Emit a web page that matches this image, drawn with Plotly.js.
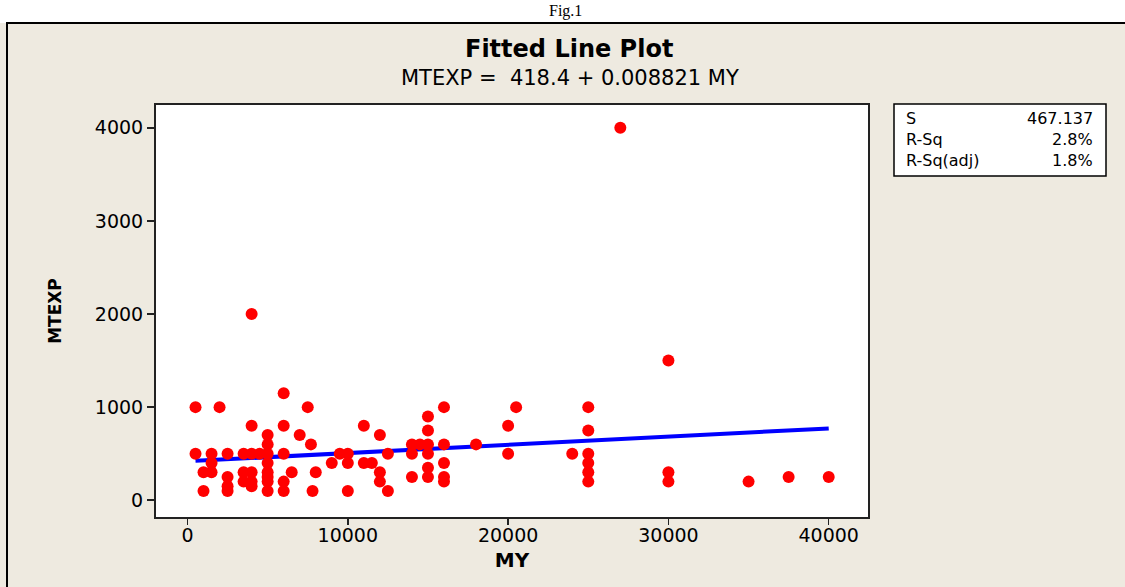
<!DOCTYPE html>
<html>
<head>
<meta charset="utf-8">
<script src="https://cdn.plot.ly/plotly-3.0.1.min.js"></script>
<style>html,body{margin:0;padding:0;background:#fff;}#chart{width:1125px;height:587px;}</style>
</head>
<body>
<div id="chart"></div>
<script>
// Data (MY vs MTEXP)
const MY = [
  500, 2000, 6000, 7500, 4000, 27000, 30000,
  4000, 6000, 5000, 7000, 5000, 7700,
  500, 1500, 2500, 3500, 4000, 4500, 5000, 6000,
  1500, 5000,
  1000, 1500, 3500, 4000, 5000, 6500, 8000,
  2500, 5000, 3500, 4000, 5000, 4000, 6000, 6000,
  2500, 2500, 1000, 5000, 7800, 10000, 12500,
  11000, 12000, 9500, 10000, 9000, 10000, 11000, 11500, 12000, 12000, 12500,
  14000, 14500, 15000, 14000, 15000, 15000, 15000,
  16000, 16000, 16000, 14000, 15000, 15000, 16000, 16000,
  18000, 20500, 20000, 20000, 24000,
  25000, 25000, 25000, 25000, 25000, 25000,
  30000, 30000, 35000, 37500, 40000
];
const MTEXP = [
  1000, 1000, 1150, 1000, 2000, 4000, 1500,
  800, 800, 700, 700, 600, 600,
  500, 500, 500, 500, 500, 500, 500, 500,
  400, 400,
  300, 300, 300, 300, 300, 300, 300,
  250, 250, 200, 200, 200, 150, 200, 100,
  150, 100, 100, 100, 100, 100, 100,
  800, 700, 500, 500, 400, 400, 400, 400, 300, 200, 500,
  600, 600, 600, 500, 500, 900, 750,
  1000, 600, 400, 250, 350, 250, 250, 200,
  600, 1000, 800, 500, 500,
  1000, 750, 500, 400, 300, 200,
  300, 200, 200, 250, 250
];
// Regression from the reference: MTEXP = 418.4 + 0.008821 MY
const intercept = 418.4;
const slope = 0.008821;
const xTicks = [0, 10000, 20000, 30000, 40000];
const yTicks = [0, 1000, 2000, 3000, 4000];
const statLabels = ['S', 'R-Sq', 'R-Sq(adj)'];
const statValues = ['467.137', '2.8%', '1.8%'];

const fitX = [Math.min(...MY), Math.max(...MY)];
const fitY = fitX.map(v => intercept + slope * v);

const W = 1125, H = 587;
const L = 156, R = 257, T = 105, B = 70;
const pw = W - L - R, ph = H - T - B;
const px = p => (p - L) / pw;
const py = p => (H - B - p) / ph;

const font = 'DejaVu Sans, Verdana, sans-serif';

const traces = [
  {x: fitX, y: fitY, mode: 'lines', line: {color: '#0000FF', width: 4}, hoverinfo: 'skip', showlegend: false},
  {x: MY, y: MTEXP, mode: 'markers', marker: {color: '#FF0000', size: 12, symbol: 'circle'}, showlegend: false}
];

const annotations = [
  {text: 'Fig.1', xref: 'paper', yref: 'paper', x: px(565), y: py(11), xanchor: 'center', yanchor: 'middle', showarrow: false,
   font: {family: 'Liberation Serif, Times New Roman, serif', size: 16, color: '#000'}},
  {text: '<b>Fitted Line Plot</b>', xref: 'paper', yref: 'paper', x: px(569), y: py(49), xanchor: 'center', yanchor: 'middle', showarrow: false,
   font: {family: font, size: 24, color: '#000'}},
  {text: 'MTEXP =  418.4 + 0.008821 MY', xref: 'paper', yref: 'paper', x: px(570), y: py(78), xanchor: 'center', yanchor: 'middle', showarrow: false,
   font: {family: font, size: 21, color: '#000'}}
];
const rowsY = [118, 139, 160];
statLabels.forEach((s, i) => {
  annotations.push({text: s, xref: 'paper', yref: 'paper', x: px(904), y: py(rowsY[i]), xanchor: 'left', yanchor: 'middle', showarrow: false,
    font: {family: font, size: 16, color: '#000'}});
  annotations.push({text: statValues[i], xref: 'paper', yref: 'paper', x: px(1095), y: py(rowsY[i]), xanchor: 'right', yanchor: 'middle', showarrow: false,
    font: {family: font, size: 16, color: '#000'}});
});

const shapes = [
  {type: 'rect', xref: 'paper', yref: 'paper', x0: px(-20), x1: px(1150), y0: py(23), y1: py(-20), fillcolor: '#FFFFFF', line: {width: 0}, layer: 'below'},
  {type: 'rect', xref: 'paper', yref: 'paper', x0: px(7), x1: px(1160), y0: py(23), y1: py(620), fillcolor: 'rgba(0,0,0,0)', line: {color: '#000', width: 2}, layer: 'below'},
  {type: 'rect', xref: 'paper', yref: 'paper', x0: px(894), x1: px(1106), y0: py(104), y1: py(176), fillcolor: '#FFFFFF', line: {color: '#000', width: 1.5}, layer: 'below'}
];

const layout = {
  width: W, height: H,
  margin: {l: L, r: R, t: T, b: B},
  paper_bgcolor: '#EEEAE0',
  plot_bgcolor: '#FFFFFF',
  showlegend: false,
  xaxis: {
    range: [-1965, 42450], tickvals: xTicks, ticktext: xTicks.map(String),
    showgrid: false, zeroline: false, showline: true, mirror: true, linecolor: '#222', linewidth: 2,
    ticks: 'outside', ticklen: 6, tickwidth: 1.5, tickcolor: '#222', ticklabelstandoff: -6,
    tickfont: {family: font, size: 19, color: '#000'},
    title: {text: '<b>MY</b>', font: {family: font, size: 20, color: '#000'}, standoff: 8}
  },
  yaxis: {
    range: [-180, 4245], tickvals: yTicks, ticktext: yTicks.map(String),
    showgrid: false, zeroline: false, showline: true, mirror: true, linecolor: '#222', linewidth: 2,
    ticks: 'outside', ticklen: 7, tickwidth: 1.5, tickcolor: '#222',
    tickfont: {family: font, size: 19, color: '#000'},
    title: {text: '<b>MTEXP</b>', font: {family: font, size: 17, color: '#000'}, standoff: 29}
  },
  annotations: annotations,
  shapes: shapes
};

Plotly.newPlot('chart', traces, layout, {staticPlot: true, displayModeBar: false});
</script>
</body>
</html>
